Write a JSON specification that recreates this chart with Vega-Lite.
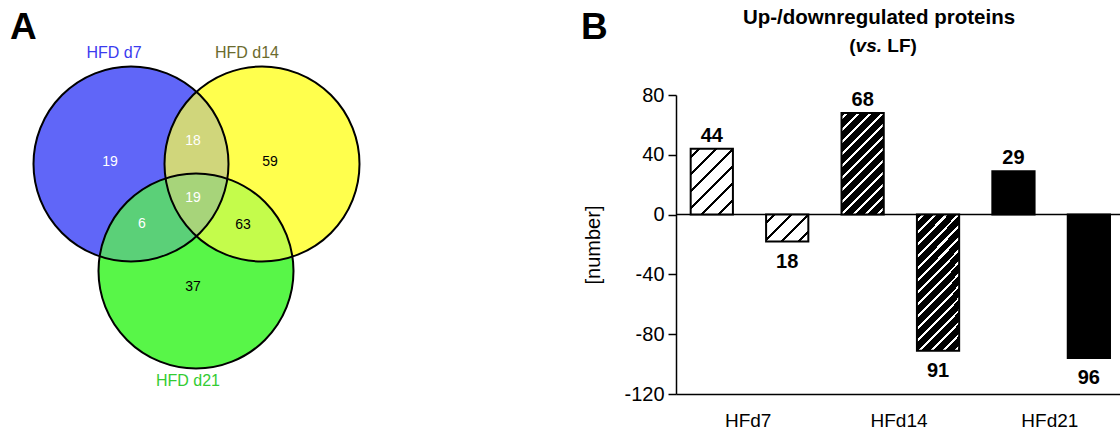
{
  "$schema": "https://vega.github.io/schema/vega-lite/v6.json",
  "background": "white",
  "padding": {"left": 10, "top": 8, "right": 0, "bottom": 0},
  "spacing": 0,
  "config": {
    "view": {"stroke": null},
    "font": "Liberation Sans",
    "text": {"font": "Liberation Sans"},
    "title": {"font": "Liberation Sans"},
    "axis": {"labelFont": "Liberation Sans", "titleFont": "Liberation Sans"}
  },
  "datasets": {
    "circles": [
      {"set": "HFD d7", "cx": 131, "cy": 165, "lx": 114, "ly": 54},
      {"set": "HFD d14", "cx": 262, "cy": 165, "lx": 247, "ly": 54},
      {"set": "HFD d21", "cx": 196, "cy": 272, "lx": 188, "ly": 382}
    ],
    "regions": [
      {"n": "19", "x": 110, "y": 163, "inD7": "yes"},
      {"n": "18", "x": 193, "y": 142, "inD7": "yes"},
      {"n": "59", "x": 270, "y": 163, "inD7": "no"},
      {"n": "19", "x": 193, "y": 199, "inD7": "yes"},
      {"n": "6", "x": 142, "y": 225, "inD7": "yes"},
      {"n": "63", "x": 243, "y": 226, "inD7": "no"},
      {"n": "37", "x": 193, "y": 288, "inD7": "no"}
    ],
    "bars": [
      {"group": "HFd7", "dir": "up", "value": 44, "label": "44"},
      {"group": "HFd7", "dir": "down", "value": -18, "label": "18"},
      {"group": "HFd14", "dir": "up", "value": 68, "label": "68"},
      {"group": "HFd14", "dir": "down", "value": -91, "label": "91"},
      {"group": "HFd21", "dir": "up", "value": 29, "label": "29"},
      {"group": "HFd21", "dir": "down", "value": -96, "label": "96"}
    ]
  },
  "hconcat": [
    {
      "width": 570,
      "height": 338,
      "title": {"text": "A", "anchor": "start", "frame": "group", "fontSize": 37, "fontWeight": "bold", "color": "black", "baseline": "alphabetic", "offset": -30.5},
      "resolve": {"scale": {"color": "independent"}},
      "layer": [
        {
          "data": {"name": "circles"},
          "mark": {"type": "circle", "size": 38025, "opacity": 1, "strokeWidth": 0},
          "encoding": {
            "x": {"field": "cx", "type": "quantitative", "scale": {"domain": [10, 580], "nice": false, "zero": false}, "axis": null},
            "y": {"field": "cy", "type": "quantitative", "scale": {"domain": [96, 434], "nice": false, "zero": false, "reverse": true}, "axis": null},
            "color": {"field": "set", "type": "nominal", "scale": {"domain": ["HFD d7", "HFD d14", "HFD d21"], "range": ["#5f5fff", "#ffff4d", "#58f648"]}, "legend": null}
          }
        },
        {
          "data": {"name": "circles"},
          "transform": [{"filter": "datum.set === 'HFD d14'"}],
          "mark": {"type": "circle", "size": 38025, "color": "#ffff4d", "opacity": 0.65, "strokeWidth": 0},
          "encoding": {
            "x": {"field": "cx", "type": "quantitative", "axis": null},
            "y": {"field": "cy", "type": "quantitative", "axis": null}
          }
        },
        {
          "data": {"name": "circles"},
          "transform": [{"filter": "datum.set === 'HFD d7'"}],
          "mark": {"type": "circle", "size": 38025, "color": "#6278e8", "opacity": 0.3, "strokeWidth": 0},
          "encoding": {
            "x": {"field": "cx", "type": "quantitative", "axis": null},
            "y": {"field": "cy", "type": "quantitative", "axis": null}
          }
        },
        {
          "data": {"name": "circles"},
          "mark": {"type": "circle", "size": 38025, "filled": false, "stroke": "black", "strokeWidth": 2, "opacity": 1},
          "encoding": {
            "x": {"field": "cx", "type": "quantitative", "axis": null},
            "y": {"field": "cy", "type": "quantitative", "axis": null}
          }
        },
        {
          "data": {"name": "regions"},
          "mark": {"type": "text", "fontSize": 14, "align": "center", "baseline": "middle"},
          "encoding": {
            "x": {"field": "x", "type": "quantitative", "axis": null},
            "y": {"field": "y", "type": "quantitative", "axis": null},
            "text": {"field": "n"},
            "color": {"field": "inD7", "type": "nominal", "scale": {"domain": ["yes", "no"], "range": ["white", "black"]}, "legend": null}
          }
        },
        {
          "data": {"name": "circles"},
          "mark": {"type": "text", "fontSize": 16, "align": "center", "baseline": "middle"},
          "encoding": {
            "x": {"field": "lx", "type": "quantitative", "axis": null},
            "y": {"field": "ly", "type": "quantitative", "axis": null},
            "text": {"field": "set"},
            "color": {"field": "set", "type": "nominal", "scale": {"domain": ["HFD d7", "HFD d14", "HFD d21"], "range": ["#3b3bef", "#6b6b2e", "#33cc33"]}, "legend": null}
          }
        }
      ]
    },
    {
      "width": 446,
      "height": 299,
      "title": {"text": "B", "anchor": "start", "frame": "bounds", "fontSize": 37, "fontWeight": "bold", "color": "black", "baseline": "alphabetic", "offset": -68.3, "dx": -3},
      "layer": [
        {
          "data": {"values": [{}]},
          "mark": {"type": "rule", "stroke": "black", "strokeWidth": 1.5},
          "encoding": {"y": {"datum": 0, "type": "quantitative"}}
        },
        {
          "data": {"name": "bars"},
          "encoding": {
            "x": {"field": "group", "type": "nominal", "scale": {"domain": ["HFd7", "HFd14", "HFd21"], "paddingInner": 0.043, "paddingOuter": 0},
              "axis": {"title": null, "ticks": false, "tickSize": 0, "labelAngle": 0, "labelFontSize": 19, "labelColor": "black", "labelPadding": 17, "domainColor": "black", "domainWidth": 1.5, "grid": false}},
            "xOffset": {"field": "dir", "type": "nominal", "scale": {"domain": ["up", "down"], "paddingInner": 0.44, "paddingOuter": 0.177, "align": 0.55}},
            "y": {"field": "value", "type": "quantitative", "scale": {"domain": [-120, 80], "nice": false},
              "axis": {"title": "[number]", "values": [-120, -80, -40, 0, 40, 80], "labelExpr": "datum.value < 0 ? '-' + format(-datum.value, 'd') : format(datum.value, 'd')", "grid": false, "domainColor": "black", "domainWidth": 1.5, "tickColor": "black", "tickWidth": 1.5, "tickSize": 8, "labelFontSize": 20, "labelColor": "black", "labelPadding": 4, "titleFontSize": 20, "titleFontWeight": "normal", "titleColor": "black", "titlePadding": 20}}
          },
          "layer": [
            {
              "transform": [{"filter": "datum.group === 'HFd7' && datum.dir === 'up'"}],
              "mark": {"type": "bar", "stroke": "black", "strokeWidth": 2,
                "fill": {"gradient": "linear", "x1": 0, "y1": 0, "x2": 0.7472, "y2": 1.1625, "stops": [
                  {"offset": 0, "color": "white"},
                  {"offset": 0.0624, "color": "white"}, {"offset": 0.0624, "color": "black"}, {"offset": 0.0948, "color": "black"}, {"offset": 0.0948, "color": "white"},
                  {"offset": 0.2197, "color": "white"}, {"offset": 0.2197, "color": "black"}, {"offset": 0.2521, "color": "black"}, {"offset": 0.2521, "color": "white"},
                  {"offset": 0.377, "color": "white"}, {"offset": 0.377, "color": "black"}, {"offset": 0.4093, "color": "black"}, {"offset": 0.4093, "color": "white"},
                  {"offset": 0.5342, "color": "white"}, {"offset": 0.5342, "color": "black"}, {"offset": 0.5666, "color": "black"}, {"offset": 0.5666, "color": "white"},
                  {"offset": 0.6915, "color": "white"}, {"offset": 0.6915, "color": "black"}, {"offset": 0.7239, "color": "black"}, {"offset": 0.7239, "color": "white"},
                  {"offset": 0.8488, "color": "white"}, {"offset": 0.8488, "color": "black"}, {"offset": 0.8811, "color": "black"}, {"offset": 0.8811, "color": "white"},
                  {"offset": 1, "color": "white"}
                ]}}
            },
            {
              "transform": [{"filter": "datum.group === 'HFd7' && datum.dir === 'down'"}],
              "mark": {"type": "bar", "stroke": "black", "strokeWidth": 2,
                "fill": {"gradient": "linear", "x1": 0, "y1": 0, "x2": 1.1647, "y2": 0.7413, "stops": [
                  {"offset": 0, "color": "white"},
                  {"offset": 0.0976, "color": "white"}, {"offset": 0.0976, "color": "black"}, {"offset": 0.1481, "color": "black"}, {"offset": 0.1481, "color": "white"},
                  {"offset": 0.3432, "color": "white"}, {"offset": 0.3432, "color": "black"}, {"offset": 0.3938, "color": "black"}, {"offset": 0.3938, "color": "white"},
                  {"offset": 0.5889, "color": "white"}, {"offset": 0.5889, "color": "black"}, {"offset": 0.6395, "color": "black"}, {"offset": 0.6395, "color": "white"},
                  {"offset": 0.8345, "color": "white"}, {"offset": 0.8345, "color": "black"}, {"offset": 0.8851, "color": "black"}, {"offset": 0.8851, "color": "white"},
                  {"offset": 1, "color": "white"}
                ]}}
            },
            {
              "transform": [{"filter": "datum.group === 'HFd14' && datum.dir === 'up'"}],
              "mark": {"type": "bar", "stroke": "black", "strokeWidth": 2,
                "fill": {"gradient": "linear", "x1": 0, "y1": 0, "x2": 0.502, "y2": 1.2071, "stops": [
                  {"offset": 0, "color": "black"},
                  {"offset": 0.0313, "color": "black"}, {"offset": 0.0313, "color": "white"}, {"offset": 0.0521, "color": "white"}, {"offset": 0.0521, "color": "black"},
                  {"offset": 0.1146, "color": "black"}, {"offset": 0.1146, "color": "white"}, {"offset": 0.1354, "color": "white"}, {"offset": 0.1354, "color": "black"},
                  {"offset": 0.1979, "color": "black"}, {"offset": 0.1979, "color": "white"}, {"offset": 0.2188, "color": "white"}, {"offset": 0.2188, "color": "black"},
                  {"offset": 0.2813, "color": "black"}, {"offset": 0.2813, "color": "white"}, {"offset": 0.3021, "color": "white"}, {"offset": 0.3021, "color": "black"},
                  {"offset": 0.3646, "color": "black"}, {"offset": 0.3646, "color": "white"}, {"offset": 0.3854, "color": "white"}, {"offset": 0.3854, "color": "black"},
                  {"offset": 0.4479, "color": "black"}, {"offset": 0.4479, "color": "white"}, {"offset": 0.4688, "color": "white"}, {"offset": 0.4688, "color": "black"},
                  {"offset": 0.5313, "color": "black"}, {"offset": 0.5313, "color": "white"}, {"offset": 0.5521, "color": "white"}, {"offset": 0.5521, "color": "black"},
                  {"offset": 0.6146, "color": "black"}, {"offset": 0.6146, "color": "white"}, {"offset": 0.6354, "color": "white"}, {"offset": 0.6354, "color": "black"},
                  {"offset": 0.6979, "color": "black"}, {"offset": 0.6979, "color": "white"}, {"offset": 0.7188, "color": "white"}, {"offset": 0.7188, "color": "black"},
                  {"offset": 0.7813, "color": "black"}, {"offset": 0.7813, "color": "white"}, {"offset": 0.8021, "color": "white"}, {"offset": 0.8021, "color": "black"},
                  {"offset": 0.8646, "color": "black"}, {"offset": 0.8646, "color": "white"}, {"offset": 0.8854, "color": "white"}, {"offset": 0.8854, "color": "black"},
                  {"offset": 0.9479, "color": "black"}, {"offset": 0.9479, "color": "white"}, {"offset": 0.9688, "color": "white"}, {"offset": 0.9688, "color": "black"},
                  {"offset": 1, "color": "black"}
                ]}}
            },
            {
              "transform": [{"filter": "datum.group === 'HFd14' && datum.dir === 'down'"}],
              "mark": {"type": "bar", "stroke": "black", "strokeWidth": 2,
                "fill": {"gradient": "linear", "x1": 0, "y1": 0, "x2": 0.3715, "y2": 1.1953, "stops": [
                  {"offset": 0, "color": "black"},
                  {"offset": 0.0252, "color": "black"}, {"offset": 0.0252, "color": "white"}, {"offset": 0.0421, "color": "white"}, {"offset": 0.0421, "color": "black"},
                  {"offset": 0.0925, "color": "black"}, {"offset": 0.0925, "color": "white"}, {"offset": 0.1094, "color": "white"}, {"offset": 0.1094, "color": "black"},
                  {"offset": 0.1598, "color": "black"}, {"offset": 0.1598, "color": "white"}, {"offset": 0.1767, "color": "white"}, {"offset": 0.1767, "color": "black"},
                  {"offset": 0.2272, "color": "black"}, {"offset": 0.2272, "color": "white"}, {"offset": 0.244, "color": "white"}, {"offset": 0.244, "color": "black"},
                  {"offset": 0.2944, "color": "black"}, {"offset": 0.2944, "color": "white"}, {"offset": 0.3113, "color": "white"}, {"offset": 0.3113, "color": "black"},
                  {"offset": 0.3617, "color": "black"}, {"offset": 0.3617, "color": "white"}, {"offset": 0.3786, "color": "white"}, {"offset": 0.3786, "color": "black"},
                  {"offset": 0.4291, "color": "black"}, {"offset": 0.4291, "color": "white"}, {"offset": 0.4459, "color": "white"}, {"offset": 0.4459, "color": "black"},
                  {"offset": 0.4964, "color": "black"}, {"offset": 0.4964, "color": "white"}, {"offset": 0.5132, "color": "white"}, {"offset": 0.5132, "color": "black"},
                  {"offset": 0.5637, "color": "black"}, {"offset": 0.5637, "color": "white"}, {"offset": 0.5805, "color": "white"}, {"offset": 0.5805, "color": "black"},
                  {"offset": 0.631, "color": "black"}, {"offset": 0.631, "color": "white"}, {"offset": 0.6478, "color": "white"}, {"offset": 0.6478, "color": "black"},
                  {"offset": 0.6983, "color": "black"}, {"offset": 0.6983, "color": "white"}, {"offset": 0.7151, "color": "white"}, {"offset": 0.7151, "color": "black"},
                  {"offset": 0.7656, "color": "black"}, {"offset": 0.7656, "color": "white"}, {"offset": 0.7824, "color": "white"}, {"offset": 0.7824, "color": "black"},
                  {"offset": 0.8329, "color": "black"}, {"offset": 0.8329, "color": "white"}, {"offset": 0.8497, "color": "white"}, {"offset": 0.8497, "color": "black"},
                  {"offset": 0.9002, "color": "black"}, {"offset": 0.9002, "color": "white"}, {"offset": 0.917, "color": "white"}, {"offset": 0.917, "color": "black"},
                  {"offset": 0.9675, "color": "black"}, {"offset": 0.9675, "color": "white"}, {"offset": 0.9843, "color": "white"}, {"offset": 0.9843, "color": "black"},
                  {"offset": 1, "color": "black"}
                ]}}
            },
            {
              "transform": [{"filter": "datum.group === 'HFd21'"}],
              "mark": {"type": "bar", "color": "black", "stroke": "black", "strokeWidth": 2}
            },
            {
              "transform": [{"filter": "datum.value > 0"}],
              "mark": {"type": "text", "baseline": "alphabetic", "dy": -7, "fontSize": 20, "fontWeight": "bold", "color": "black"},
              "encoding": {"text": {"field": "label"}}
            },
            {
              "transform": [{"filter": "datum.value < 0"}],
              "mark": {"type": "text", "baseline": "top", "dy": 10, "fontSize": 20, "fontWeight": "bold", "color": "black"},
              "encoding": {"text": {"field": "label"}}
            }
          ]
        },
        {
          "data": {"values": [{}]},
          "mark": {"type": "text", "text": "Up-/downregulated proteins", "fontSize": 20.5, "fontWeight": "bold", "color": "black", "align": "center", "baseline": "middle", "dx": -20},
          "encoding": {"x": {"datum": "HFd14", "type": "nominal"}, "y": {"datum": 131.5, "type": "quantitative"}}
        },
        {
          "data": {"values": [{}]},
          "mark": {"type": "text", "text": "(", "fontSize": 19, "fontWeight": "bold", "color": "black", "align": "right", "baseline": "middle", "dx": -43.4},
          "encoding": {"x": {"datum": "HFd14", "type": "nominal"}, "y": {"datum": 113, "type": "quantitative"}}
        },
        {
          "data": {"values": [{}]},
          "mark": {"type": "text", "text": "vs.", "fontSize": 19, "fontWeight": "bold", "fontStyle": "italic", "color": "black", "align": "right", "baseline": "middle", "dx": -17},
          "encoding": {"x": {"datum": "HFd14", "type": "nominal"}, "y": {"datum": 113, "type": "quantitative"}}
        },
        {
          "data": {"values": [{}]},
          "mark": {"type": "text", "text": "LF)", "fontSize": 19, "fontWeight": "bold", "color": "black", "align": "left", "baseline": "middle", "dx": -11.7},
          "encoding": {"x": {"datum": "HFd14", "type": "nominal"}, "y": {"datum": 113, "type": "quantitative"}}
        }
      ]
    }
  ]
}
